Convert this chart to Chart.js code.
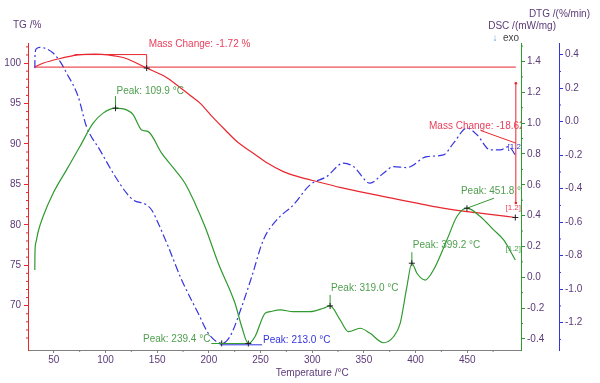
<!DOCTYPE html>
<html lang="en">
<head>
<meta charset="UTF-8">
<title>TG / DTG / DSC</title>
<script src="https://cdn.jsdelivr.net/npm/chart.js@4.4.0/dist/chart.umd.min.js"></script>
<style>
  * { margin:0; padding:0; box-sizing:border-box; }
  body { background:#fff; width:600px; height:383px; overflow:hidden; }
  canvas { display:block; }
</style>
</head>
<body>
<canvas id="chart" width="600" height="383"></canvas>
<script>
// ---- data ----
const tgTemp  = [31.6, 40, 54.1, 73.5, 90, 102.6, 118.7, 139.8, 157.5, 170, 183.3, 191.4, 203, 215.6, 228, 243, 257, 272, 288, 304.4, 328, 352.8, 377, 401.3, 425, 449.7, 472, 496.5];
const tgValue = [99.55, 100.0, 100.5, 101.0, 101.1, 101.0, 100.62, 99.38, 98.34, 97.2, 95.87, 95.05, 93.4, 91.75, 90.2, 88.86, 87.6, 86.58, 85.9, 85.35, 84.6, 83.91, 83.3, 82.67, 82.1, 81.63, 81.3, 80.9];

const dtgTemp  = [31.6, 31.8, 33, 36.4, 43, 49.3, 56, 62.3, 73.5, 81.6, 94.5, 107.4, 120.4, 126.8, 139.8, 145, 151, 160.7, 173.7, 189.7, 199.4, 207.6, 212.4, 217, 222.1, 231.8, 241.5, 252.7, 265.7, 281.7, 297.9, 314.1, 330.2, 339.9, 356, 368.9, 378.6, 391.6, 411, 427, 436.7, 449.7, 459.4, 472.3, 482, 490, 496.5];
const dtgValue = [0.32, 0.40, 0.435, 0.444, 0.435, 0.41, 0.36, 0.291, 0.151, -0.029, -0.168, -0.307, -0.427, -0.467, -0.497, -0.53, -0.606, -0.746, -0.945, -1.144, -1.263, -1.314, -1.323, -1.31, -1.263, -1.104, -0.925, -0.706, -0.586, -0.497, -0.377, -0.327, -0.247, -0.268, -0.367, -0.307, -0.268, -0.274, -0.208, -0.198, -0.128, -0.038, -0.078, -0.168, -0.168, -0.148, -0.198];

const dscTemp  = [31.6, 31.7, 32.6, 35, 39.6, 49.3, 62.3, 75.2, 88, 97.7, 109.7, 120.4, 126.8, 134.9, 141.3, 154.3, 167.2, 176.9, 186.5, 196.2, 209.1, 225.3, 231.8, 238.2, 244.6, 254.3, 259.2, 268.9, 281.7, 297.9, 310.8, 317.3, 327, 335, 346.3, 356, 368.9, 378.6, 385.1, 391.6, 396.4, 401.3, 409.3, 417.3, 430.3, 440, 449.7, 462.6, 475.5, 485.2, 496.5];
const dscValue = [0.047, 0.15, 0.225, 0.30, 0.394, 0.545, 0.697, 0.848, 1.0, 1.065, 1.097, 1.086, 1.054, 0.956, 0.945, 0.805, 0.697, 0.610, 0.481, 0.329, 0.091, -0.169, -0.321, -0.43, -0.386, -0.234, -0.223, -0.212, -0.223, -0.223, -0.201, -0.186, -0.277, -0.353, -0.331, -0.364, -0.425, -0.386, -0.299, -0.061, 0.091, 0.026, -0.018, 0.047, 0.242, 0.394, 0.448, 0.394, 0.307, 0.242, 0.112];

const xTicks   = [50, 100, 150, 200, 250, 300, 350, 400, 450];
const tgTicks  = [70, 75, 80, 85, 90, 95, 100];
const dscTicks = [-0.4, -0.2, 0.0, 0.2, 0.4, 0.6, 0.8, 1.0, 1.2, 1.4];
const dtgTicks = [-1.2, -1.0, -0.8, -0.6, -0.4, -0.2, 0.0, 0.2, 0.4];

// peaks: [temperature, value, label]
const dscPeaks = [[109.7, 1.097, 'Peak: 109.9 °C'], [238.2, -0.43, 'Peak: 239.4 °C'], [317.3, -0.186, 'Peak: 319.0 °C'], [396.4, 0.091, 'Peak: 399.2 °C'], [449.7, 0.448, 'Peak: 451.8 °C']];
const dtgPeaks = [[212.4, -1.323, 'Peak: 213.0 °C']];
const massSteps = [[139.8, 99.38, 'Mass Change: -1.72 %'], [496.5, 80.9, 'Mass Change: -18.62 %']];
const tgStart = 99.5;

const RED = '#e8262e', GREEN = '#2f9a2f', BLUE = '#3434e0', PURPLE = '#5b3a78';
const RED_TXT = '#e8405c', GREEN_TXT = '#4f9e4f';
const FONT = '"Liberation Sans", Arial, sans-serif';

const pts = (xs, ys) => xs.map((t, i) => ({x: t, y: ys[i]}));
const fixTicks = list => s => { s.ticks = list.map(v => ({value: v})); };

const overlay = {
  id: 'overlay',
  afterDatasetsDraw(chart) {
    const {ctx, chartArea: a, scales} = chart;
    const X = v => scales.x.getPixelForValue(v);
    const TG = v => scales.y.getPixelForValue(v);
    const DSC = v => scales.y1.getPixelForValue(v);
    const DTG = v => scales.y2.getPixelForValue(v);
    const line = (x1, y1, x2, y2, c) => { ctx.strokeStyle = c; ctx.beginPath(); ctx.moveTo(x1, y1); ctx.lineTo(x2, y2); ctx.stroke(); };
    const cross = (px, py) => { ctx.strokeStyle = '#222'; ctx.beginPath(); ctx.moveTo(px - 3, py); ctx.lineTo(px + 3, py); ctx.moveTo(px, py - 3); ctx.lineTo(px, py + 3); ctx.stroke(); };
    const text = (s, px, py, c, align, size) => { ctx.fillStyle = c; ctx.textAlign = align || 'left'; ctx.textBaseline = 'middle'; ctx.font = (size || 10) + 'px ' + FONT; ctx.fillText(s, px, py); };

    ctx.save();
    // labels may run above the plot, but are cut at its right edge
    ctx.beginPath(); ctx.rect(a.left, a.top - 12, a.right - a.left, a.bottom - a.top + 12); ctx.clip();
    ctx.lineWidth = 1;

    // TG mass-change markings
    const [m1, m2] = massSteps;
    line(X(tgTemp[0]), TG(tgStart), X(497), TG(tgStart), RED);
    line(X(70), TG(101.05), X(m1[0]), TG(101.05), RED);
    line(X(m1[0]), TG(101.05), X(m1[0]), TG(m1[1]), RED);
    cross(X(m1[0]), TG(m1[1]));
    text(m1[2], X(m1[0]) + 2, TG(m1[1]) - 24, RED_TXT);
    line(X(497), TG(97.5), X(497), TG(82.7), RED);
    ctx.fillStyle = RED;
    [97.5, 82.7].forEach(v => { ctx.beginPath(); ctx.arc(X(497), TG(v), 1.3, 0, Math.PI * 2); ctx.fill(); });
    line(X(463), TG(91.66), X(497), TG(90.1), RED);
    text(m2[2], X(413), TG(92.24), RED_TXT);
    cross(X(m2[0]), TG(m2[1]));
    text('[1.2]', X(494.5), TG(82.1), RED_TXT, 'center', 8);

    // DTG peak
    const [tb, vb, lb] = dtgPeaks[0];
    line(X(tb) - 2, DTG(vb) + 1.5, X(251.5), DTG(vb) + 1.5, BLUE);
    cross(X(tb), DTG(vb));
    text(lb, X(252.4), DTG(vb) - 3.5, BLUE);
    text('[1.2]', X(496.5), DTG(-0.15), BLUE, 'center', 8);

    // DSC peaks
    dscPeaks.forEach(([t, v, s], i) => {
      const px = X(t), py = DSC(v);
      if (i === 1) {
        line(px - 37, py, px, py, GREEN);
        text(s, px - 38, py - 4, GREEN_TXT, 'right');
      } else if (i === 4) {
        line(px, py, px + 27, py - 10, GREEN);
        text(s, px - 6, py - 17, GREEN_TXT);
      } else {
        line(px, py, px, py - (i === 0 ? 12 : 11), GREEN);
        text(s, px + 1, py - (i === 0 ? 17 : 17.5), GREEN_TXT);
      }
      cross(px, py);
    });
    text('[1.2]', X(494.5), DSC(0.184), GREEN_TXT, 'center', 8);
    ctx.restore();

    // minor ticks
    ctx.save();
    ctx.lineWidth = 1;
    for (let v = 65; v <= 102; v++) if (v % 5) line(a.left - 2, TG(v), a.left, TG(v), RED);
    for (let v = 75; v <= 500; v += 50) line(X(v), a.bottom, X(v), a.bottom + 2, '#808080');
    for (let k = -4; k <= 15; k++) if (k % 2) line(scales.y1.left, DSC(k / 10), scales.y1.left + 2, DSC(k / 10), GREEN);
    for (let k = -13; k <= 4; k++) if (k % 2) line(scales.y2.left, DTG(k / 10), scales.y2.left + 2, DTG(k / 10), BLUE);

    // axis titles
    text('TG /%', 13, 25, PURPLE);
    text('DTG /(%/min)', 590, 14, PURPLE, 'right');
    text('DSC /(mW/mg)', 556, 26, PURPLE, 'right');
    text('↓', 495, 38, '#5a9fd0', 'center');
    text('exo', 503, 38, '#444');
    text('Temperature /°C', X(300), 373, PURPLE, 'center');
    ctx.restore();
  }
};

const tickFont = {family: FONT, size: 10};

new Chart(document.getElementById('chart'), {
  type: 'line',
  data: {
    datasets: [
      { label: 'DSC', data: pts(dscTemp, dscValue), yAxisID: 'y1', borderColor: GREEN, borderWidth: 1.2, pointRadius: 0, cubicInterpolationMode: 'monotone' },
      { label: 'DTG', data: pts(dtgTemp, dtgValue), yAxisID: 'y2', borderColor: BLUE, borderWidth: 1.2, borderDash: [8, 3, 2, 3], pointRadius: 0, cubicInterpolationMode: 'monotone' },
      { label: 'TG', data: pts(tgTemp, tgValue), yAxisID: 'y', borderColor: RED, borderWidth: 1.2, pointRadius: 0, cubicInterpolationMode: 'monotone' }
    ]
  },
  options: {
    responsive: false,
    animation: false,
    devicePixelRatio: 1,
    layout: { padding: { top: 43, left: 0, right: 0, bottom: 0 } },
    plugins: { legend: { display: false }, tooltip: { enabled: false } },
    scales: {
      x: {
        type: 'linear', min: 25, max: 502,
        afterBuildTicks: fixTicks(xTicks), afterFit: s => { s.height = 33; },
        border: { color: '#808080' },
        grid: { drawOnChartArea: false, tickLength: 3, color: '#808080' },
        ticks: { color: PURPLE, font: tickFont, padding: 1, maxRotation: 0, autoSkip: false, callback: v => String(v) }
      },
      y: {
        position: 'left', min: 64.52, max: 102.48,
        afterBuildTicks: fixTicks(tgTicks), afterFit: s => { s.width = 28; },
        border: { color: RED },
        grid: { drawOnChartArea: false, tickLength: 4, color: RED },
        ticks: { color: PURPLE, font: tickFont, padding: 3, autoSkip: false, callback: v => String(v) }
      },
      y1: {
        position: 'right', weight: 0, min: -0.472, max: 1.52,
        afterBuildTicks: fixTicks(dscTicks), afterFit: s => { s.width = 38; },
        border: { color: GREEN },
        grid: { drawOnChartArea: false, tickLength: 4, color: GREEN },
        ticks: { color: PURPLE, font: tickFont, padding: 2, autoSkip: false, callback: v => v.toFixed(1) }
      },
      y2: {
        position: 'right', weight: 1, min: -1.363, max: 0.47,
        afterBuildTicks: fixTicks(dtgTicks), afterFit: s => { s.width = 41; },
        border: { color: BLUE },
        grid: { drawOnChartArea: false, tickLength: 4, color: BLUE },
        ticks: { color: PURPLE, font: tickFont, padding: 2, autoSkip: false, callback: v => v.toFixed(1) }
      }
    }
  },
  plugins: [overlay]
});
</script>
</body>
</html>
